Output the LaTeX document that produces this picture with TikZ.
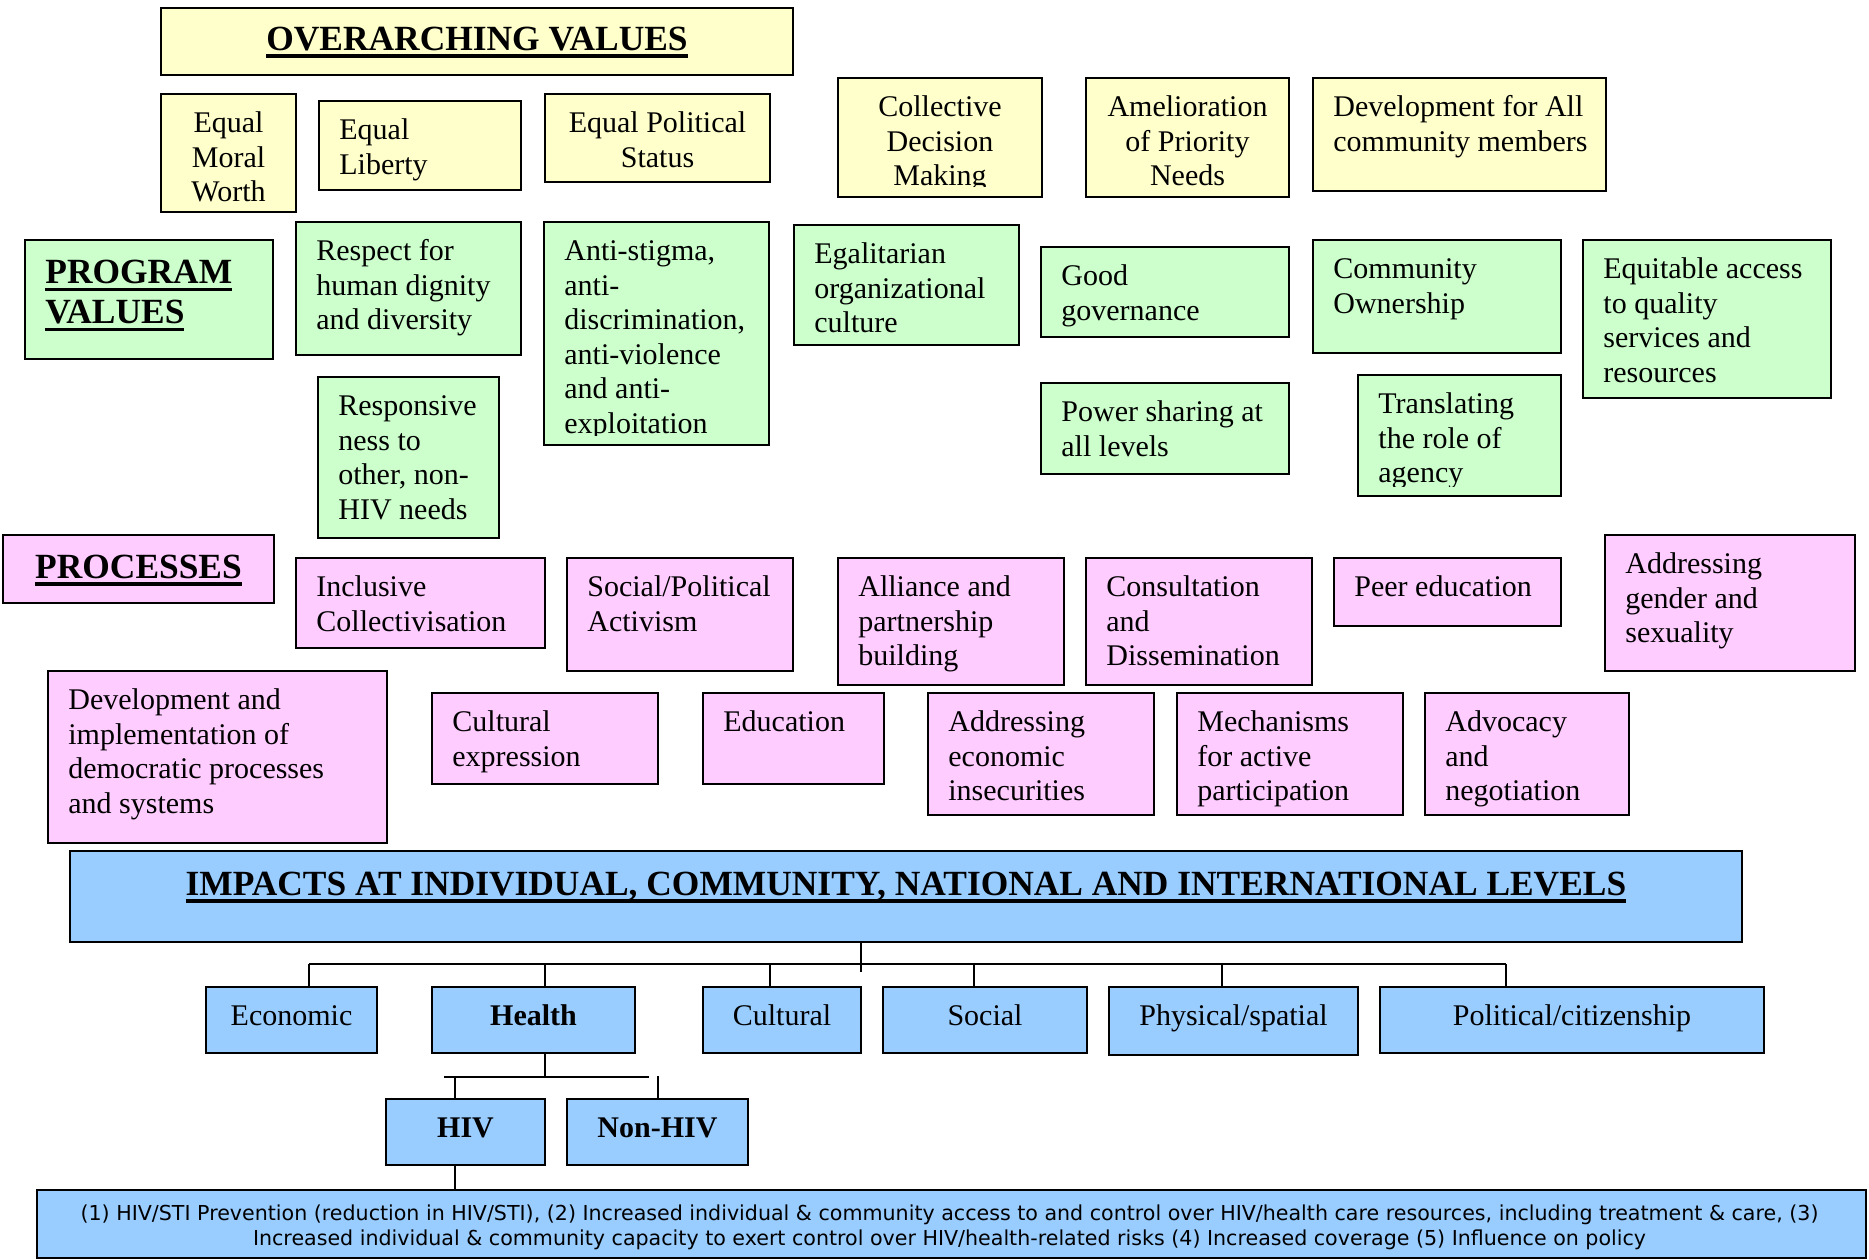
\documentclass[tikz,border=0pt]{standalone}
\usepackage{fontspec}
\setmainfont{Liberation Serif}
\newfontfamily\smallsans{DejaVu Sans}
\usetikzlibrary{fit}
\definecolor{yelc}{HTML}{FFFFCC}
\definecolor{grnc}{HTML}{CCFFCC}
\definecolor{pnkc}{HTML}{FFCCFF}
\definecolor{bluc}{HTML}{99CCFF}
\newcommand\bodyf{\fontsize{15}{17.3}\selectfont}
\newcommand\headf{\fontsize{17.7}{20}\selectfont\bfseries}
\newcommand\ulin[1]{\vtop{\hbox{\raisebox{0pt}[\height][0pt]{#1}}\kern2.2pt\hrule height 1.7pt}}
\newcommand\topstrut[1]{\rule{0pt}{#1}}
\tikzset{
  box/.style={draw=black, line width=1.1pt, inner sep=0pt, outer sep=0pt},
  yel/.style={box, fill=yelc},
  grn/.style={box, fill=grnc},
  pnk/.style={box, fill=pnkc},
  blu/.style={box, fill=bluc},
  ltxt/.style={font=\bodyf, inner sep=0pt, align=left},
  ctxt/.style={font=\bodyf, inner sep=0pt, align=center},
  conn/.style={draw=black, line width=1pt},
}
% name, style, x1, y1, x2, y2, text  (left-aligned text); first baseline 19pt below top
\newcommand\Lbox[7]{%
  \node[#2, fit={(#3,#4)(#5,#6)}] (#1) {};
  \node[ltxt, anchor=north west] (#1t) at ([xshift=10pt, yshift=-7pt]#1.north west) {\topstrut{12pt}#7};}
% centered text
\newcommand\Cbox[7]{%
  \node[#2, fit={(#3,#4)(#5,#6)}] (#1) {};
  \node[ctxt, anchor=north] (#1t) at ([yshift=-7pt]#1.north) {\topstrut{12pt}#7};}
% variants whose text is cut off near the bottom edge
\newcommand\LboxC[7]{%
  \node[#2, fit={(#3,#4)(#5,#6)}] (#1) {};
  \begin{scope}
  \clip (#1.north west) rectangle ([yshift=5pt]#1.south east);
  \node[ltxt, anchor=north west] (#1t) at ([xshift=10pt, yshift=-7pt]#1.north west) {\topstrut{12pt}#7};
  \end{scope}}
\newcommand\CboxC[7]{%
  \node[#2, fit={(#3,#4)(#5,#6)}] (#1) {};
  \begin{scope}
  \clip (#1.north west) rectangle ([yshift=5.5pt]#1.south east);
  \node[ctxt, anchor=north] (#1t) at ([yshift=-7pt]#1.north) {\topstrut{12pt}#7};
  \end{scope}}
\begin{document}
\begin{tikzpicture}[x=0.5pt, y=-0.5pt]
\useasboundingbox (0,0) rectangle (1869,1259);
% ---------- overarching values ----------
\node[yel, fit={(161,8)(793,75)}] (ov) {};
\node[inner sep=0pt, font=\headf, anchor=base] (ovt) at ([yshift=-21pt]ov.north) {\ulin{OVERARCHING VALUES}};
\Cbox{emw}{yel}{161}{94}{296}{212}{Equal\\Moral\\Worth}
\Lbox{el}{yel}{319}{101}{521}{190}{Equal\\Liberty}
\Cbox{eps}{yel}{545}{94}{770}{182}{Equal Political\\Status}
\CboxC{cdm}{yel}{838}{78}{1042}{197}{Collective\\Decision\\Making}
\Cbox{apn}{yel}{1086}{78}{1289}{197}{Amelioration\\of Priority\\Needs}
\Lbox{dfa}{yel}{1313}{78}{1606}{191}{Development for All\\community members}
% ---------- program values ----------
\node[grn, fit={(25,240)(273,359)}] (pv) {};
\node[inner sep=0pt, font=\headf, align=left, anchor=north west] (pvt) at ([xshift=10pt, yshift=-7.5pt]pv.north west) {\topstrut{14pt}\ulin{PROGRAM}\\\ulin{VALUES}};
\Lbox{res}{grn}{296}{222}{521}{355}{Respect for\\human dignity\\and diversity}
\LboxC{ant}{grn}{544}{222}{769}{445}{Anti-stigma,\\anti-\\discrimination,\\anti-violence\\and anti-\\exploitation}
\Lbox{ega}{grn}{794}{225}{1019}{345}{Egalitarian\\organizational\\culture}
\Lbox{gov}{grn}{1041}{247}{1289}{337}{Good\\governance}
\Lbox{com}{grn}{1313}{240}{1561}{353}{Community\\Ownership}
\Lbox{equ}{grn}{1583}{240}{1831}{398}{Equitable access\\to quality\\services and\\resources}
\Lbox{rsp}{grn}{318}{377}{499}{538}{Responsive\\ness to\\other, non-\\HIV needs}
\Lbox{pow}{grn}{1041}{383}{1289}{474}{Power sharing at\\all levels}
\LboxC{tra}{grn}{1358}{375}{1561}{496}{Translating\\the role of\\agency}
% ---------- processes ----------
\node[pnk, fit={(3,535)(274,603)}] (pr) {};
\node[inner sep=0pt, font=\headf, anchor=base] (prt) at ([yshift=-21.5pt]pr.north) {\ulin{PROCESSES}};
\Lbox{inc}{pnk}{296}{558}{545}{648}{Inclusive\\Collectivisation}
\Lbox{spa}{pnk}{567}{558}{793}{671}{Social/Political\\Activism}
\Lbox{all}{pnk}{838}{558}{1064}{685}{Alliance and\\partnership\\building}
\Lbox{con}{pnk}{1086}{558}{1312}{685}{Consultation\\and\\Dissemination}
\Lbox{pee}{pnk}{1334}{558}{1561}{626}{Peer education}
\Lbox{ags}{pnk}{1605}{535}{1855}{671}{Addressing\\gender and\\sexuality}
\Lbox{dev}{pnk}{48}{671}{387}{843}{Development and\\implementation of\\democratic processes\\and systems}
\Lbox{cul}{pnk}{432}{693}{658}{784}{Cultural\\expression}
\Lbox{edu}{pnk}{703}{693}{884}{784}{Education}
\Lbox{aei}{pnk}{928}{693}{1154}{815}{Addressing\\economic\\insecurities}
\Lbox{mec}{pnk}{1177}{693}{1403}{815}{Mechanisms\\for active\\participation}
\Lbox{adv}{pnk}{1425}{693}{1629}{815}{Advocacy\\and\\negotiation}
% ---------- impacts ----------
\node[blu, fit={(70,851)(1742,942)}] (imp) {};
\node[inner sep=0pt, font=\headf, anchor=base] (impt) at ([yshift=-22pt]imp.north) {\ulin{IMPACTS AT INDIVIDUAL, COMMUNITY, NATIONAL AND INTERNATIONAL LEVELS}};
\Cbox{eco}{blu}{206}{987}{377}{1053}{Economic}
\Cbox{hea}{blu}{432}{987}{635}{1053}{\bfseries Health}
\Cbox{clt}{blu}{703}{987}{861}{1053}{Cultural}
\Cbox{soc}{blu}{883}{987}{1087}{1053}{Social}
\Cbox{phy}{blu}{1109}{987}{1358}{1055}{Physical/spatial}
\Cbox{pol}{blu}{1380}{987}{1764}{1053}{Political/citizenship}
\Cbox{hiv}{blu}{386}{1099}{545}{1165}{\bfseries HIV}
\Cbox{nhv}{blu}{567}{1099}{748}{1165}{\bfseries Non-HIV}
\node[blu, fit={(37,1190)(1866,1258)}] (bot) {};
\node[inner sep=0pt, align=center, anchor=north, font=\smallsans\fontsize{10.3}{12.5}\selectfont] (bott) at ([xshift=-1pt, yshift=-6pt]bot.north) {\topstrut{9pt}(1) HIV/STI Prevention (reduction in HIV/STI), (2) Increased individual \& community access to and control over HIV/health care resources, including treatment \& care, (3)\\Increased individual \& community capacity to exert control over HIV/health-related risks (4) Increased coverage (5) Influence on policy};
% ---------- connectors ----------
\coordinate (impdrop) at (861,972);
\coordinate (busL) at (309,964);
\coordinate (busR) at (1506,964);
\coordinate (dH) at (545,964);
\coordinate (dC) at (770,964);
\coordinate (dS) at (974,964);
\coordinate (dP) at (1222,964);
\draw[conn] (imp.south -| impdrop) -- (impdrop);
\draw[conn] (busL) -- (busR);
\draw[conn] (busL) -- (eco.north -| busL);
\draw[conn] (dH) -- (hea.north -| dH);
\draw[conn] (dC) -- (clt.north -| dC);
\draw[conn] (dS) -- (soc.north -| dS);
\draw[conn] (dP) -- (phy.north -| dP);
\draw[conn] (busR) -- (pol.north -| busR);
\coordinate (hb) at (545,1077);
\coordinate (hbL) at (444,1077);
\coordinate (hbR) at (649,1077);
\coordinate (hv) at (455,1077);
\coordinate (nh) at (658,1076);
\draw[conn] (hea.south -| hb) -- (hb);
\draw[conn] (hbL) -- (hbR);
\draw[conn] (hv) -- (hiv.north -| hv);
\draw[conn] (nh) -- (nhv.north -| nh);
\draw[conn] (hiv.south -| hv) -- (bot.north -| hv);
\end{tikzpicture}
\end{document}
